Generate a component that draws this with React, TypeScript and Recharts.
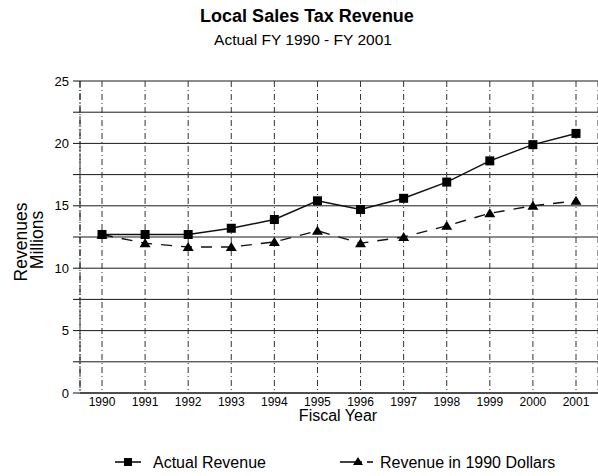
import React from 'react';
import { LineChart, Line, XAxis, YAxis, CartesianGrid } from 'recharts';

const years = ['1990', '1991', '1992', '1993', '1994', '1995', '1996', '1997', '1998', '1999', '2000', '2001'];
const actualRevenue = [12.7, 12.7, 12.7, 13.2, 13.9, 15.4, 14.7, 15.6, 16.9, 18.6, 19.9, 20.8];
const revenue1990Dollars = [12.7, 12.0, 11.7, 11.7, 12.1, 13.0, 12.0, 12.5, 13.4, 14.4, 15.0, 15.4];
const yTicks = [0, 2.5, 5, 7.5, 10, 12.5, 15, 17.5, 20, 22.5, 25];

const title = 'Local Sales Tax Revenue';
const subtitle = 'Actual FY 1990 - FY 2001';
const yLabel1 = 'Revenues';
const yLabel2 = 'Millions';
const xLabel = 'Fiscal Year';
const seriesNames = ['Actual Revenue', 'Revenue in 1990 Dollars'];

const data = years.map((y, i) => ({ year: y, actual: actualRevenue[i], real: revenue1990Dollars[i] }));

const FONT = '"Liberation Sans", Arial, Helvetica, sans-serif';

const SquareDot = (props: any) => {
  const { cx, cy, index } = props;
  if (cx == null || cy == null) return null;
  return <rect key={`sq-${index}`} x={cx - 4.5} y={cy - 4.5} width={9} height={9} fill="#000" />;
};

const TriangleDot = (props: any) => {
  const { cx, cy, index } = props;
  if (cx == null || cy == null) return null;
  return (
    <polygon
      key={`tr-${index}`}
      points={`${cx},${cy - 5} ${cx + 5.5},${cy + 4} ${cx - 5.5},${cy + 4}`}
      fill="#000"
    />
  );
};

export default function App() {
  return (
    <div style={{ position: 'absolute', left: 0, top: 0, width: 598, height: 476, background: '#fff', fontFamily: FONT }}>
      <LineChart
        width={598}
        height={476}
        data={data}
        margin={{ top: 81, right: 0, bottom: 53, left: 0 }}
      >
        <CartesianGrid horizontal={true} vertical={false} stroke="#1a1a1a" strokeWidth={1} />
        <CartesianGrid horizontal={false} vertical={true} stroke="#333" strokeWidth={1} strokeDasharray="6 3 1 3" />
        <XAxis
          dataKey="year"
          height={30}
          padding={{ left: 22, right: 22 }}
          tickLine={false}
          tickSize={2}
          tickMargin={2}
          axisLine={{ stroke: '#111', strokeWidth: 1.2 }}
          tick={{ fontSize: 12, fill: '#000', fontFamily: FONT }}
          interval={0}
        />
        <YAxis
          type="number"
          width={80}
          domain={[0, 25]}
          ticks={yTicks}
          interval={0}
          tickSize={7}
          tickMargin={4}
          tickLine={{ stroke: '#111' }}
          axisLine={{ stroke: '#222', strokeWidth: 1, strokeDasharray: '7 2 1 2' }}
          tick={{ fontSize: 13, fill: '#000', fontFamily: FONT }}
          tickFormatter={(v: number) => (v % 5 === 0 ? String(v) : '')}
        />
        <Line
          type="linear"
          dataKey="real"
          stroke="#111"
          strokeWidth={1.4}
          strokeDasharray="11 9"
          dot={<TriangleDot />}
          activeDot={false}
          isAnimationActive={false}
        />
        <Line
          type="linear"
          dataKey="actual"
          stroke="#111"
          strokeWidth={1.5}
          dot={<SquareDot />}
          activeDot={false}
          isAnimationActive={false}
        />
      </LineChart>
      <svg
        width={598}
        height={476}
        style={{ position: 'absolute', left: 0, top: 0, pointerEvents: 'none' }}
        fontFamily={FONT}
      >
        <text x={307} y={22} textAnchor="middle" fontSize={18} fontWeight="bold" fill="#000">{title}</text>
        <text x={303} y={45} textAnchor="middle" fontSize={15.5} fill="#000">{subtitle}</text>
        <text transform="translate(27,242) rotate(-90)" textAnchor="middle" fontSize={17.5} fill="#000">{yLabel1}</text>
        <text transform="translate(43,240) rotate(-90)" textAnchor="middle" fontSize={17.5} fill="#000">{yLabel2}</text>
        <text x={338} y={421} textAnchor="middle" fontSize={16} fill="#000">{xLabel}</text>
        <line x1={115} y1={462} x2={141} y2={462} stroke="#000" strokeWidth={1.5} />
        <rect x={124} y={458} width={8} height={8} fill="#000" />
        <text x={153} y={468} fontSize={16} fill="#000">{seriesNames[0]}</text>
        <line x1={340} y1={462} x2={362} y2={462} stroke="#000" strokeWidth={1.5} />
        <polygon points="358,457 363,465 353,465" fill="#000" />
        <line x1={367} y1={462} x2={373} y2={462} stroke="#000" strokeWidth={1.5} />
        <text x={380} y={468} fontSize={16} fill="#000">{seriesNames[1]}</text>
      </svg>
    </div>
  );
}
